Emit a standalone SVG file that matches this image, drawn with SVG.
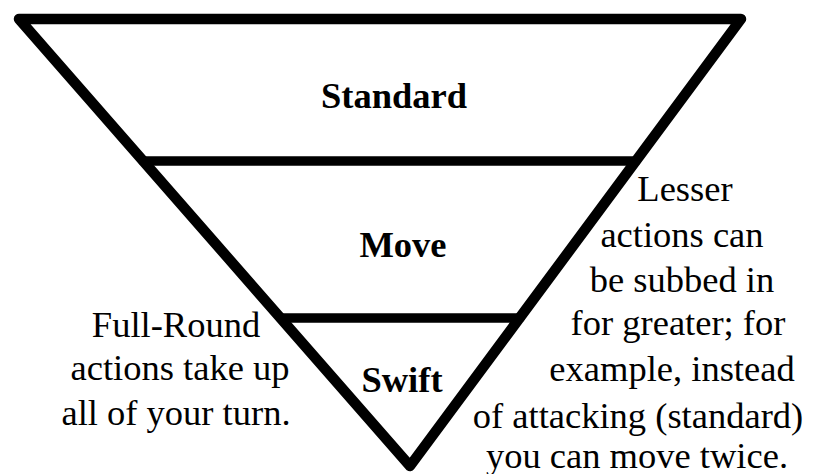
<svg xmlns="http://www.w3.org/2000/svg" width="815" height="474" viewBox="0 0 815 474">
<style>
.edge{stroke:#000;fill:none;stroke-linecap:round;stroke-linejoin:round}
.lbl{font-family:"Liberation Serif","Times New Roman",serif;font-weight:bold;font-size:36.5px;text-anchor:middle;fill:#000}
.note{font-family:"Liberation Serif","Times New Roman",serif;font-size:36.5px;text-anchor:middle;fill:#000}
</style>
<rect width="815" height="474" fill="#fff"/>
<g id="connectors">
<polygon class="edge" stroke-width="10.5" points="19,19 741,19 410,466"/>
<line class="edge" stroke-width="9.5" stroke-linecap="butt" x1="143" y1="161" x2="636" y2="161"/>
<line class="edge" stroke-width="9.5" stroke-linecap="butt" x1="281" y1="318" x2="520" y2="318"/>
</g>
<g id="standard"><text class="lbl" x="394" y="108">Standard</text></g>
<g id="move"><text class="lbl" x="403" y="257">Move</text></g>
<g id="swift"><text class="lbl" x="402" y="392">Swift</text></g>
<g id="note-left">
<text class="note" x="176" y="337">Full-Round</text>
<text class="note" x="180" y="380">actions take up</text>
<text class="note" x="176" y="425">all of your turn.</text>
</g>
<g id="note-right">
<text class="note" x="685" y="201">Lesser</text>
<text class="note" x="682" y="247">actions can</text>
<text class="note" x="682" y="292">be subbed in</text>
<text class="note" x="678" y="335">for greater; for</text>
<text class="note" x="672" y="381">example, instead</text>
<text class="note" x="638" y="428">of attacking (standard)</text>
<text class="note" x="637" y="468">you can move twice.</text>
</g>
</svg>
